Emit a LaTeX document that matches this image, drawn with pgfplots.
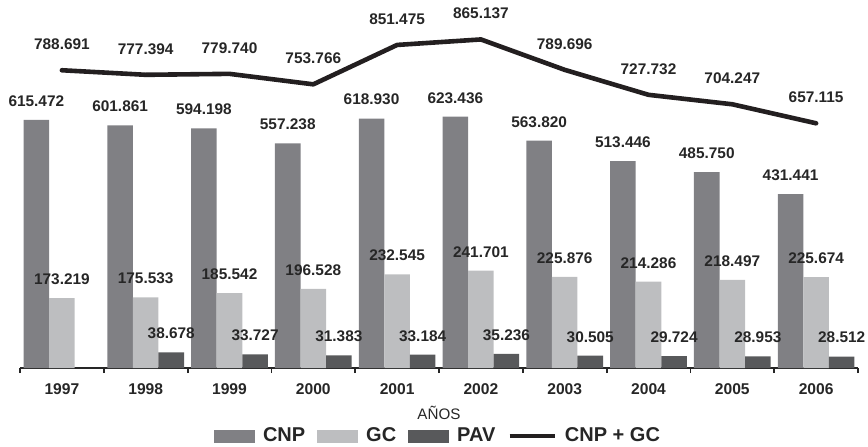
\documentclass[border=0pt]{standalone}
\usepackage{pgfplots}
\usepackage{pgfplotstable}
\pgfplotsset{compat=1.18}
\usepackage{fontspec}
\setmainfont{Liberation Sans}

\definecolor{cnp}{RGB}{128,128,132}
\definecolor{gc}{RGB}{189,190,192}
\definecolor{pav}{RGB}{88,89,91}
\definecolor{linea}{RGB}{35,31,32}

% values in thousands, category index 0 = 1997
\pgfplotstableread{
x cnp gc
0 615.472 173.219
1 601.861 175.533
2 594.198 185.542
3 557.238 196.528
4 618.930 232.545
5 623.436 241.701
6 563.820 225.876
7 513.446 214.286
8 485.750 218.497
9 431.441 225.674
}\barras

\pgfplotstableread{
x pav
1 38.678
2 33.727
3 31.383
4 33.184
5 35.236
6 30.505
7 29.724
8 28.953
9 28.512
}\pav

\pgfplotstableread{
x suma
0 788.691
1 777.394
2 779.740
3 753.766
4 851.475
5 865.137
6 789.696
7 727.732
8 704.247
9 657.115
}\suma

\begin{document}
\begin{tikzpicture}
\useasboundingbox (-10pt,-39pt) rectangle (424pt,184pt);
\pgfplotsset{
  etiq/.style={
    nodes near coords={\pgfmathprintnumber[fixed,fixed zerofill,precision=3,assume math mode=true]{\pgfplotspointmeta}},
    every node near coord/.append style={anchor=south, inner sep=0pt, yshift=#1,
      font=\bfseries\fontsize{7.7}{9}\selectfont, text=black!85}
  }
}
\begin{axis}[
  scale only axis, width=419pt, height=184pt,
  xmin=-0.5, xmax=9.5, ymin=0, ymax=913,
  axis x line=bottom, axis y line=none,
  x axis line style={-, line width=0.9pt, black!85},
  ybar, bar width=0.305,
  xtick={0,...,9},
  xticklabels={1997,1998,1999,2000,2001,2002,2003,2004,2005,2006},
  major tick length=0pt,
  minor xtick={-0.5,0.5,...,9.5},
  minor tick length=2.5pt, tick align=outside,
  minor tick style={line width=0.9pt, black!85},
  xticklabel style={font=\bfseries\fontsize{7.8}{9}\selectfont, text=black!85, yshift=-4.5pt},
  xlabel={AÑOS},
  every axis x label/.style={at={(axis description cs:0.5,0)}, yshift=-22.5pt, anchor=center,
    font=\fontsize{7.6}{9}\selectfont, text=black!85},
  legend style={at={(axis description cs:0.5,0)}, yshift=-34pt, anchor=center, draw=none,
    fill=none, legend columns=4, font=\bfseries\fontsize{10}{12}\selectfont, text=black!85,
    /tikz/every odd column/.append style={column sep=2pt},
    /tikz/every even column/.append style={column sep=4pt}},
]
\addplot[draw=none, fill=cnp, bar shift=-0.305, etiq=6.5pt,
  legend image code/.code={\fill[cnp] (0pt,-3.25pt) rectangle (20.5pt,3.25pt);}]
  table[x=x, y=cnp] {\barras};
\addlegendentry{CNP}
\addplot[draw=none, fill=gc, bar shift=0, etiq=6.5pt,
  legend image code/.code={\fill[gc] (0pt,-3.25pt) rectangle (20.5pt,3.25pt);}]
  table[x=x, y=gc] {\barras};
\addlegendentry{GC}
\addplot[draw=none, fill=pav, bar shift=0.305, etiq=6.5pt,
  legend image code/.code={\fill[pav] (0pt,-3.25pt) rectangle (20.5pt,3.25pt);}]
  table[x=x, y=pav] {\pav};
\addlegendentry{PAV}
\addlegendimage{legend image code/.code={\draw[linea, line width=2.3pt] (0pt,0pt) -- (22.5pt,0pt);}}
\addlegendentry{CNP + GC}
\end{axis}

\begin{axis}[
  scale only axis, width=419pt, height=184pt,
  xmin=-0.5, xmax=9.5, ymin=50, ymax=963,
  hide axis,
]
\addplot[linea, line width=2.3pt, line join=round, line cap=round, mark=none, etiq=9pt]
  table[x=x, y=suma] {\suma};
\end{axis}
\end{tikzpicture}
\end{document}
